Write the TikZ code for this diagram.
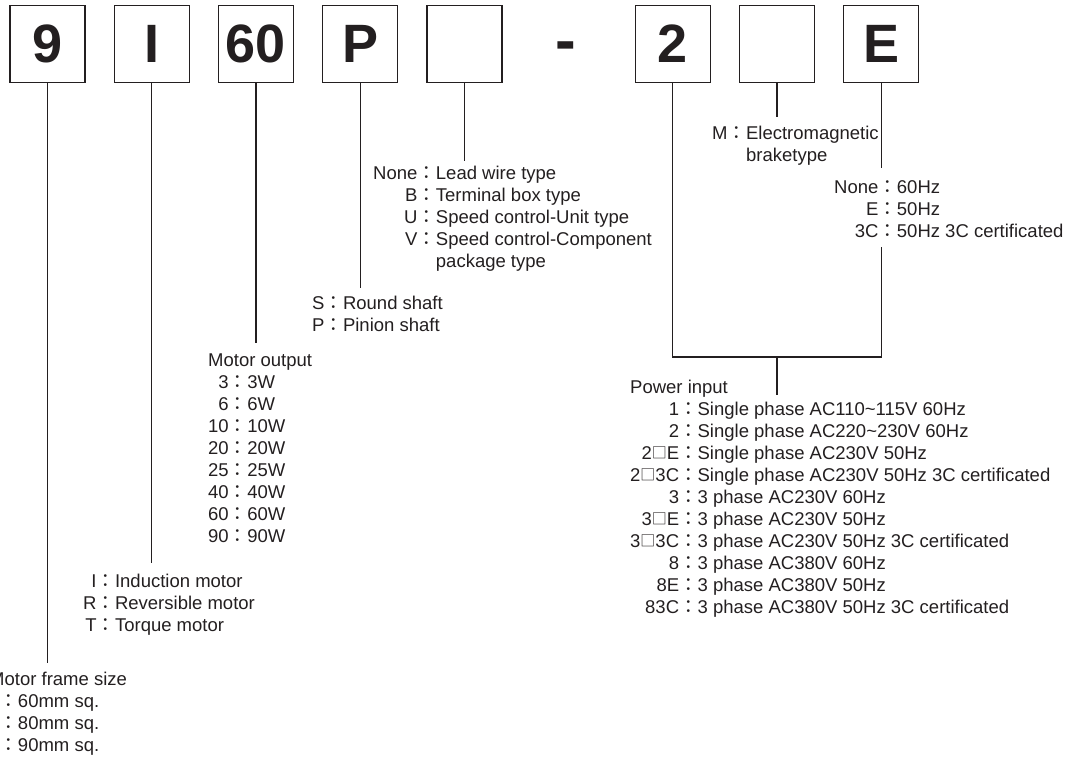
\documentclass[tikz,border=0pt]{standalone}
\usepackage{fontspec}
\setmainfont{Liberation Sans}
\newfontfamily\cjk{Noto Sans CJK JP}
\definecolor{ink}{HTML}{231F20}
\newcommand{\cl}{{\cjk ：}}
\newcommand{\wsq}{\raisebox{0.8pt}{\fontsize{15}{15}\cjk □}}
\begin{document}
\begin{tikzpicture}[x=1pt,y=-1pt,
  box/.style={draw=ink, line width=1.4pt, minimum width=75pt, minimum height=77pt, inner sep=0pt, text=ink, font=\fontsize{54}{54}\selectfont\bfseries},
  lst/.style={anchor=north west, inner sep=0pt, text=ink, font=\fontsize{18.5}{22}\selectfont},
  wire/.style={draw=ink, line width=1.2pt}]
\useasboundingbox (0,0) rectangle (1066,758);
\clip (0,0) rectangle (1066,758);

% code boxes
\node[box] (b1) at (47.5,44) {9};
\node[box] (b2) at (151.7,44) {I};
\node[box] (b3) at (255.9,44) {60};
\node[box] (b4) at (360.1,44) {P};
\node[box] (b5) at (464.3,44) {};
\node[anchor=base, inner sep=0pt, text=ink, font=\fontsize{62}{62}\selectfont\bfseries] (dash) at (566,61) {-};
\node[box] (b6) at (672.7,44) {2};
\node[box] (b7) at (776.9,44) {};
\node[box] (b8) at (881.1,44) {E};

% lists
\node[lst] (fs) at (-11,670) {\begin{tabular}{@{}r@{}c@{}l@{}}\multicolumn{3}{@{}l@{}}{Motor frame size}\\
\phantom{0}&\cl&60mm sq.\\
\phantom{0}&\cl&80mm sq.\\
\phantom{0}&\cl&90mm sq.\end{tabular}};

\node[lst] (mt) at (83,572) {\begin{tabular}{@{}r@{}c@{}l@{}}I&\cl&Induction motor\\
R&\cl&Reversible motor\\
T&\cl&Torque motor\end{tabular}};

\node[lst] (mo) at (208,351) {\begin{tabular}{@{}r@{}c@{}l@{}}\multicolumn{3}{@{}l@{}}{Motor output}\\
3&\cl&3W\\
6&\cl&6W\\
10&\cl&10W\\
20&\cl&20W\\
25&\cl&25W\\
40&\cl&40W\\
60&\cl&60W\\
90&\cl&90W\end{tabular}};

\node[lst] (sh) at (312,294) {\begin{tabular}{@{}r@{}c@{}l@{}}S&\cl&Round shaft\\
P&\cl&Pinion shaft\end{tabular}};

\node[lst] (lw) at (373,164) {\begin{tabular}{@{}r@{}c@{}l@{}}None&\cl&Lead wire type\\
B&\cl&Terminal box type\\
U&\cl&Speed control-Unit type\\
V&\cl&Speed control-Component\\
&&package type\end{tabular}};

\node[lst] (br) at (712,124) {\begin{tabular}{@{}r@{}c@{}l@{}}M&\cl&Electromagnetic\\
&&braketype\end{tabular}};

\node[lst] (fq) at (834,178) {\begin{tabular}{@{}r@{}c@{}l@{}}None&\cl&60Hz\\
E&\cl&50Hz\\
3C&\cl&50Hz 3C certificated\end{tabular}};

\node[lst] (pw) at (630,378) {\begin{tabular}{@{}r@{}c@{}l@{}}\multicolumn{3}{@{}l@{}}{Power input}\\
1&\cl&Single phase AC110\char`\~115V 60Hz\\
2&\cl&Single phase AC220\char`\~230V 60Hz\\
2\wsq E&\cl&Single phase AC230V 50Hz\\
2\wsq 3C&\cl&Single phase AC230V 50Hz 3C certificated\\
3&\cl&3 phase AC230V 60Hz\\
3\wsq E&\cl&3 phase AC230V 50Hz\\
3\wsq 3C&\cl&3 phase AC230V 50Hz 3C certificated\\
8&\cl&3 phase AC380V 60Hz\\
8E&\cl&3 phase AC380V 50Hz\\
83C&\cl&3 phase AC380V 50Hz 3C certificated\end{tabular}};

% connector ends
\coordinate (e1) at (47.5,663);
\coordinate (e2) at (151.7,563);
\coordinate (e3) at (255.9,343);
\coordinate (e4) at (360.1,288);
\coordinate (e5) at (464.3,161);
\coordinate (e7) at (776.9,117);
\coordinate (e8) at (881.1,168);
\coordinate (jl) at (672.7,357);
\coordinate (jr) at (881.1,357);
\coordinate (jt) at (881.1,247);
\coordinate (jm) at (776.9,357);
\coordinate (js) at (776.9,395);

\draw[wire] (b1.south) -- (e1);
\draw[wire] (b2.south) -- (e2);
\draw[wire] (b3.south) -- (e3);
\draw[wire] (b4.south) -- (e4);
\draw[wire] (b5.south) -- (e5);
\draw[wire] (b7.south) -- (e7);
\draw[wire] (b8.south) -- (e8);
\draw[wire] (b6.south) -- (jl) -- (jr) -- (jt);
\draw[wire] (jm) -- (js);
\end{tikzpicture}
\end{document}
